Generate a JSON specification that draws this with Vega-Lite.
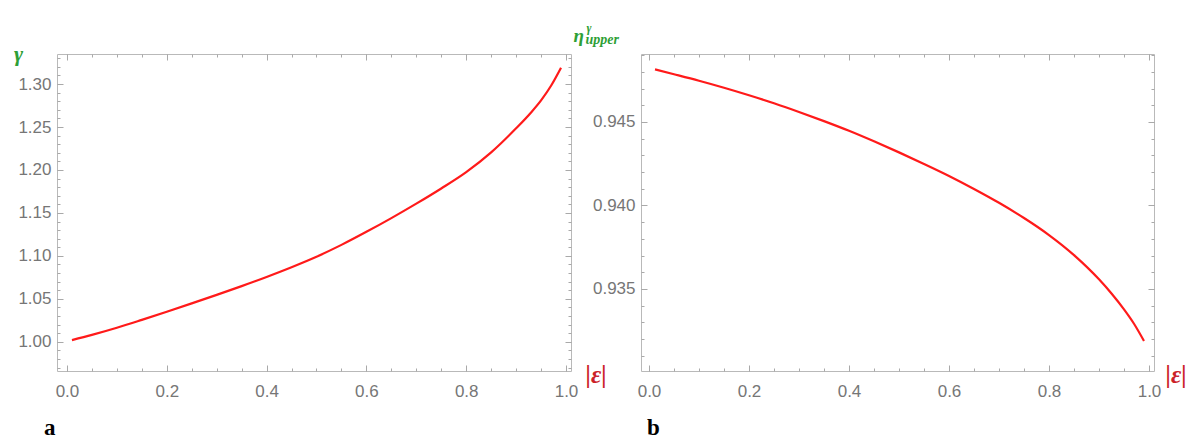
{
  "$schema": "https://vega.github.io/schema/vega-lite/v6.json",
  "background": "white",
  "padding": {"left": 12, "top": 20, "right": 0, "bottom": 0},
  "config": {
    "view": {"stroke": "#b9b9b9", "strokeWidth": 1},
    "axis": {"grid": false, "domain": false, "tickColor": "#a9a9a9", "tickWidth": 1, "labelColor": "#767676", "labelFont": "Liberation Sans", "labelFontSize": 17, "titleFontWeight": "bold"}
  },
  "bounds": "flush",
  "spacing": 70,
  "hconcat": [
    {
      "width": 514, "height": 317,
      "title": {"text": "a", "orient": "bottom", "anchor": "start", "frame": "group", "font": "Liberation Serif", "fontSize": 23, "fontWeight": "bold", "color": "black", "dx": -13, "offset": 18},
      "data": {"values": [
        {"e": 0.01, "g": 1.002}, {"e": 0.05, "g": 1.008}, {"e": 0.1, "g": 1.0163}, {"e": 0.15, "g": 1.0255},
        {"e": 0.2, "g": 1.035}, {"e": 0.25, "g": 1.0447}, {"e": 0.3, "g": 1.0546}, {"e": 0.35, "g": 1.0648},
        {"e": 0.4, "g": 1.0755}, {"e": 0.45, "g": 1.0868}, {"e": 0.5, "g": 1.0990}, {"e": 0.55, "g": 1.1128},
        {"e": 0.6, "g": 1.1280}, {"e": 0.65, "g": 1.1440}, {"e": 0.7, "g": 1.1608}, {"e": 0.75, "g": 1.1785},
        {"e": 0.8, "g": 1.1975}, {"e": 0.85, "g": 1.2205}, {"e": 0.9, "g": 1.2485}, {"e": 0.93, "g": 1.267},
        {"e": 0.95, "g": 1.281}, {"e": 0.97, "g": 1.298}, {"e": 0.99, "g": 1.319}
      ]},
      "layer": [
        {
          "mark": {"type": "line", "color": "#ff1a1a", "strokeWidth": 2.2, "interpolate": "monotone"},
          "encoding": {
            "x": {"field": "e", "type": "quantitative", "scale": {"domain": [-0.02, 1.01], "nice": false, "zero": false},
              "axis": {"orient": "bottom", "values": [0, 0.2, 0.4, 0.6, 0.8, 1.0], "format": ".1f", "tickSize": -6, "labelPadding": 18,
                "title": "|ε|", "titleColor": "#cc2229", "titleFont": "Liberation Serif", "titleFontSize": 25, "titleFontStyle": "italic", "titleAngle": 0, "titleAlign": "left", "titleBaseline": "middle", "titleX": 528, "titleY": 3}},
            "y": {"field": "g", "type": "quantitative", "scale": {"domain": [0.966, 1.335], "nice": false, "zero": false},
              "axis": {"orient": "left", "values": [1.0, 1.05, 1.1, 1.15, 1.2, 1.25, 1.3], "format": ".2f", "tickSize": -6, "labelPadding": 12,
                "title": "γ", "titleColor": "#2e9f36", "titleFont": "Liberation Serif", "titleFontSize": 22, "titleFontStyle": "italic", "titleAngle": 0, "titleAlign": "center", "titleBaseline": "middle", "titleX": -39, "titleY": -1}}
          }
        },
        {
          "mark": {"type": "line", "opacity": 0},
          "encoding": {
            "x": {"field": "e", "type": "quantitative", "axis": {"orient": "bottom", "values": [0, 0.05, 0.1, 0.15, 0.2, 0.25, 0.3, 0.35, 0.4, 0.45, 0.5, 0.55, 0.6, 0.65, 0.7, 0.75, 0.8, 0.85, 0.9, 0.95, 1.0], "tickSize": -3, "labels": false, "title": null}},
            "y": {"field": "g", "type": "quantitative", "axis": {"orient": "left", "values": [0.97, 0.98, 0.99, 1.0, 1.01, 1.02, 1.03, 1.04, 1.05, 1.06, 1.07, 1.08, 1.09, 1.1, 1.11, 1.12, 1.13, 1.14, 1.15, 1.16, 1.17, 1.18, 1.19, 1.2, 1.21, 1.22, 1.23, 1.24, 1.25, 1.26, 1.27, 1.28, 1.29, 1.3, 1.31, 1.32, 1.33], "tickSize": -3, "labels": false, "title": null}}
          }
        },
        {
          "mark": {"type": "line", "opacity": 0},
          "encoding": {
            "x": {"field": "e", "type": "quantitative", "axis": {"orient": "top", "values": [0, 0.2, 0.4, 0.6, 0.8, 1.0], "tickSize": -6, "labels": false, "title": null}},
            "y": {"field": "g", "type": "quantitative", "axis": {"orient": "right", "values": [1.0, 1.05, 1.1, 1.15, 1.2, 1.25, 1.3], "tickSize": -6, "labels": false, "title": null}}
          }
        },
        {
          "mark": {"type": "line", "opacity": 0},
          "encoding": {
            "x": {"field": "e", "type": "quantitative", "axis": {"orient": "top", "values": [0, 0.05, 0.1, 0.15, 0.2, 0.25, 0.3, 0.35, 0.4, 0.45, 0.5, 0.55, 0.6, 0.65, 0.7, 0.75, 0.8, 0.85, 0.9, 0.95, 1.0], "tickSize": -3, "labels": false, "title": null}},
            "y": {"field": "g", "type": "quantitative", "axis": {"orient": "right", "values": [0.97, 0.98, 0.99, 1.0, 1.01, 1.02, 1.03, 1.04, 1.05, 1.06, 1.07, 1.08, 1.09, 1.1, 1.11, 1.12, 1.13, 1.14, 1.15, 1.16, 1.17, 1.18, 1.19, 1.2, 1.21, 1.22, 1.23, 1.24, 1.25, 1.26, 1.27, 1.28, 1.29, 1.3, 1.31, 1.32, 1.33], "tickSize": -3, "labels": false, "title": null}}
          }
        }
      ],
      "resolve": {"axis": {"x": "independent", "y": "independent"}}
    },
    {
      "width": 513, "height": 317,
      "title": {"text": "b", "orient": "bottom", "anchor": "start", "frame": "group", "font": "Liberation Serif", "fontSize": 23, "fontWeight": "bold", "color": "black", "dx": 6, "offset": 18},
      "data": {"values": [
        {"e": 0.012, "h": 0.94815}, {"e": 0.05, "h": 0.94786}, {"e": 0.1, "h": 0.94747}, {"e": 0.15, "h": 0.94705},
        {"e": 0.2, "h": 0.94660}, {"e": 0.25, "h": 0.94612}, {"e": 0.3, "h": 0.94560}, {"e": 0.35, "h": 0.94505},
        {"e": 0.4, "h": 0.94447}, {"e": 0.45, "h": 0.94384}, {"e": 0.5, "h": 0.94318}, {"e": 0.55, "h": 0.94249},
        {"e": 0.6, "h": 0.94177}, {"e": 0.65, "h": 0.94099}, {"e": 0.7, "h": 0.94016}, {"e": 0.75, "h": 0.93925},
        {"e": 0.8, "h": 0.93823}, {"e": 0.85, "h": 0.93703}, {"e": 0.9, "h": 0.93558}, {"e": 0.925, "h": 0.93473},
        {"e": 0.95, "h": 0.93378}, {"e": 0.97, "h": 0.93292}, {"e": 0.99, "h": 0.93189}
      ]},
      "layer": [
        {
          "mark": {"type": "line", "color": "#ff1a1a", "strokeWidth": 2.2, "interpolate": "monotone"},
          "encoding": {
            "x": {"field": "e", "type": "quantitative", "scale": {"domain": [-0.016, 1.01], "nice": false, "zero": false},
              "axis": {"orient": "bottom", "values": [0, 0.2, 0.4, 0.6, 0.8, 1.0], "format": ".1f", "tickSize": -6, "labelPadding": 18,
                "title": "|ε|", "titleColor": "#cc2229", "titleFont": "Liberation Serif", "titleFontSize": 25, "titleFontStyle": "italic", "titleAngle": 0, "titleAlign": "left", "titleBaseline": "middle", "titleX": 524, "titleY": 3}},
            "y": {"field": "h", "type": "quantitative", "scale": {"domain": [0.93009, 0.94907], "nice": false, "zero": false},
              "axis": {"orient": "left", "values": [0.935, 0.94, 0.945], "format": ".3f", "tickSize": -6, "labelPadding": 12,
                "title": "η", "titleColor": "#2e9f36", "titleFont": "Liberation Serif", "titleFontSize": 19, "titleFontStyle": "italic", "titleAngle": 0, "titleAlign": "left", "titleBaseline": "alphabetic", "titleX": -68, "titleY": -13}}
          }
        },
        {
          "mark": {"type": "line", "opacity": 0},
          "encoding": {
            "x": {"field": "e", "type": "quantitative", "axis": {"orient": "bottom", "values": [0, 0.05, 0.1, 0.15, 0.2, 0.25, 0.3, 0.35, 0.4, 0.45, 0.5, 0.55, 0.6, 0.65, 0.7, 0.75, 0.8, 0.85, 0.9, 0.95, 1.0], "tickSize": -3, "labels": false, "title": null}},
            "y": {"field": "h", "type": "quantitative", "axis": {"orient": "left", "values": [0.931, 0.932, 0.933, 0.934, 0.935, 0.936, 0.937, 0.938, 0.939, 0.94, 0.941, 0.942, 0.943, 0.944, 0.945, 0.946, 0.947, 0.948, 0.949], "tickSize": -3, "labels": false,
              "title": "upper", "titleColor": "#2e9f36", "titleFont": "Liberation Serif", "titleFontSize": 14, "titleFontStyle": "italic", "titleAngle": 0, "titleAlign": "left", "titleBaseline": "alphabetic", "titleX": -56, "titleY": -11}}
          }
        },
        {
          "mark": {"type": "line", "opacity": 0},
          "encoding": {
            "x": {"field": "e", "type": "quantitative", "axis": {"orient": "top", "values": [0, 0.2, 0.4, 0.6, 0.8, 1.0], "tickSize": -6, "labels": false,
              "title": "γ", "titleColor": "#2e9f36", "titleFont": "Liberation Serif", "titleFontSize": 12, "titleFontStyle": "italic", "titleAngle": 0, "titleAlign": "left", "titleBaseline": "alphabetic", "titleX": -55, "titleY": -23}},
            "y": {"field": "h", "type": "quantitative", "axis": {"orient": "right", "values": [0.935, 0.94, 0.945], "tickSize": -6, "labels": false, "title": null}}
          }
        },
        {
          "mark": {"type": "line", "opacity": 0},
          "encoding": {
            "x": {"field": "e", "type": "quantitative", "axis": {"orient": "top", "values": [0, 0.05, 0.1, 0.15, 0.2, 0.25, 0.3, 0.35, 0.4, 0.45, 0.5, 0.55, 0.6, 0.65, 0.7, 0.75, 0.8, 0.85, 0.9, 0.95, 1.0], "tickSize": -3, "labels": false, "title": null}},
            "y": {"field": "h", "type": "quantitative", "axis": {"orient": "right", "values": [0.931, 0.932, 0.933, 0.934, 0.935, 0.936, 0.937, 0.938, 0.939, 0.94, 0.941, 0.942, 0.943, 0.944, 0.945, 0.946, 0.947, 0.948, 0.949], "tickSize": -3, "labels": false, "title": null}}
          }
        }
      ],
      "resolve": {"axis": {"x": "independent", "y": "independent"}}
    }
  ]
}
